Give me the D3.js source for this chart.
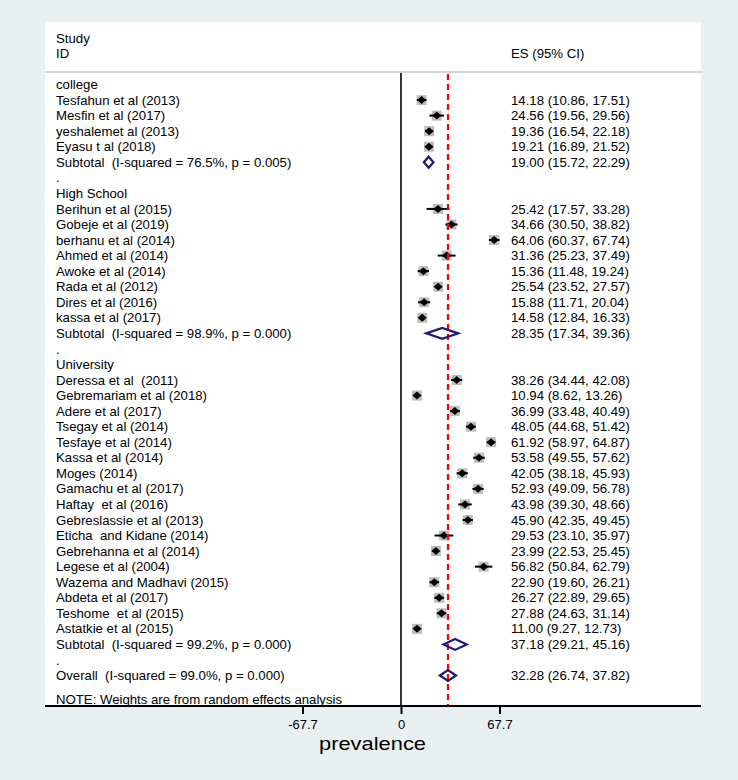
<!DOCTYPE html>
<html><head><meta charset="utf-8">
<script src="https://cdn.jsdelivr.net/npm/d3@7"></script>
<style>
html,body{margin:0;padding:0;background:#e9f0f2;}
svg{display:block;font-family:"Liberation Sans",Arial,sans-serif;}
text{white-space:pre;}
</style></head><body>
<svg id="chart" width="738" height="780"></svg>
<script>
// ---- data ----
const rowLabels = [
  "college",
  "Tesfahun et al (2013)","Mesfin et al (2017)","yeshalemet al (2013)","Eyasu t al (2018)",
  "Subtotal  (I-squared = 76.5%, p = 0.005)",
  ".",
  "High School",
  "Berihun et al (2015)","Gobeje et al (2019)","berhanu et al (2014)","Ahmed et al (2014)",
  "Awoke et al (2014)","Rada et al (2012)","Dires et al (2016)","kassa et al (2017)",
  "Subtotal  (I-squared = 98.9%, p = 0.000)",
  ".",
  "University",
  "Deressa et al  (2011)","Gebremariam et al (2018)","Adere et al (2017)","Tsegay et al (2014)",
  "Tesfaye et al (2014)","Kassa et al (2014)","Moges (2014)","Gamachu et al (2017)",
  "Haftay  et al (2016)","Gebreslassie et al (2013)","Eticha  and Kidane (2014)","Gebrehanna et al (2014)",
  "Legese et al (2004)","Wazema and Madhavi (2015)","Abdeta et al (2017)","Teshome  et al (2015)",
  "Astatkie et al (2015)",
  "Subtotal  (I-squared = 99.2%, p = 0.000)",
  ".",
  "Overall  (I-squared = 99.0%, p = 0.000)"
];
const rowKinds = [
  "group","study","study","study","study","subtotal","blank",
  "group","study","study","study","study","study","study","study","study","subtotal","blank",
  "group","study","study","study","study","study","study","study","study","study","study","study","study","study","study","study","study","study","subtotal","blank",
  "overall"
];
const esValues = [
  null,14.18,24.56,19.36,19.21,19.00,null,
  null,25.42,34.66,64.06,31.36,15.36,25.54,15.88,14.58,28.35,null,
  null,38.26,10.94,36.99,48.05,61.92,53.58,42.05,52.93,43.98,45.90,29.53,23.99,56.82,22.90,26.27,27.88,11.00,37.18,null,
  32.28
];
const ciLower = [
  null,10.86,19.56,16.54,16.89,15.72,null,
  null,17.57,30.50,60.37,25.23,11.48,23.52,11.71,12.84,17.34,null,
  null,34.44,8.62,33.48,44.68,58.97,49.55,38.18,49.09,39.30,42.35,23.10,22.53,50.84,19.60,22.89,24.63,9.27,29.21,null,
  26.74
];
const ciUpper = [
  null,17.51,29.56,22.18,21.52,22.29,null,
  null,33.28,38.82,67.74,37.49,19.24,27.57,20.04,16.33,39.36,null,
  null,42.08,13.26,40.49,51.42,64.87,57.62,45.93,56.78,48.66,49.45,35.97,25.45,62.79,26.21,29.65,31.14,12.73,45.16,null,
  37.82
];
const tickValues = [-67.7, 0, 67.7];
const tickLabels = ["-67.7", "0", "67.7"];
const overallES = 32.28;
const noteText = "NOTE: Weights are from random effects analysis";
const xTitle = "prevalence";

// ---- layout ----
const svg = d3.select("#chart");
const panel = {left: 45, right: 701, top: 22, bottom: 706};
const headerLineY = 72;
const x = d3.scaleLinear().domain([-67.7, 67.7]).range([302.5, 499.5]);
const y = d3.scaleLinear().domain([0, rowLabels.length - 1]).range([84.5, 675.5]);
const labelX = 56, esX = 511, fs = 13.2;
const fmt = d3.format(".2f");

svg.append("rect").attr("width", 738).attr("height", 780).attr("fill", "#e9f0f2");
svg.append("rect").attr("x", panel.left).attr("y", panel.top)
  .attr("width", panel.right - panel.left).attr("height", panel.bottom - panel.top)
  .attr("fill", "#ffffff");

// header
svg.append("text").attr("x", labelX).attr("y", 38).attr("dy", "0.35em").attr("font-size", fs).text("Study");
svg.append("text").attr("x", labelX).attr("y", 53).attr("dy", "0.35em").attr("font-size", fs).text("ID");
svg.append("text").attr("x", esX).attr("y", 53).attr("dy", "0.35em").attr("font-size", fs).text("ES (95% CI)");
svg.append("line").attr("x1", panel.left).attr("x2", panel.right)
  .attr("y1", headerLineY).attr("y2", headerLineY)
  .attr("stroke", "#c8c8c8").attr("stroke-width", 1.5);

// zero line
svg.append("line").attr("x1", x(0)).attr("x2", x(0))
  .attr("y1", headerLineY + 1).attr("y2", panel.bottom)
  .attr("stroke", "#000").attr("stroke-width", 1.6);

const rows = rowLabels.map((lab, i) => ({i, lab, kind: rowKinds[i], es: esValues[i], lo: ciLower[i], hi: ciUpper[i]}));

// labels
svg.append("g").selectAll("text").data(rows).join("text")
  .attr("x", labelX).attr("y", d => y(d.i)).attr("dy", "0.35em")
  .attr("font-size", fs).attr("fill", "#000").text(d => d.lab);

svg.append("text").attr("x", labelX).attr("y", 699).attr("dy", "0.35em")
  .attr("font-size", fs).text(noteText);

// ES column
svg.append("g").selectAll("text").data(rows.filter(d => d.es !== null)).join("text")
  .attr("x", esX).attr("y", d => y(d.i)).attr("dy", "0.35em")
  .attr("font-size", fs).attr("fill", "#000")
  .text(d => `${fmt(d.es)} (${fmt(d.lo)}, ${fmt(d.hi)})`);

const studies = rows.filter(d => d.kind === "study");
const boxSize = 10;
// weight boxes
svg.append("g").selectAll("rect").data(studies).join("rect")
  .attr("x", d => x(d.es) - boxSize / 2).attr("y", d => y(d.i) - boxSize / 2)
  .attr("width", boxSize).attr("height", boxSize).attr("fill", "#bdbdbd");
// CI lines
svg.append("g").selectAll("line").data(studies).join("line")
  .attr("x1", d => x(d.lo)).attr("x2", d => x(d.hi))
  .attr("y1", d => y(d.i)).attr("y2", d => y(d.i))
  .attr("stroke", "#000").attr("stroke-width", 2);
// point diamonds
svg.append("g").selectAll("path").data(studies).join("path")
  .attr("d", d => {
    const cx = x(d.es), cy = y(d.i);
    return `M${cx - 4.5},${cy}L${cx},${cy - 4}L${cx + 4.5},${cy}L${cx},${cy + 4}Z`;
  })
  .attr("fill", "#000");

// overall line
svg.append("line").attr("x1", x(overallES)).attr("x2", x(overallES))
  .attr("y1", headerLineY + 2).attr("y2", panel.bottom)
  .attr("stroke", "#ff0000").attr("stroke-width", 2.2).attr("stroke-dasharray", "6,4");

// pooled diamonds
const pooled = rows.filter(d => d.kind === "subtotal" || d.kind === "overall");
svg.append("g").selectAll("path").data(pooled).join("path")
  .attr("d", d => {
    const cy = y(d.i), h = 5.5;
    return `M${x(d.lo)},${cy}L${x(d.es)},${cy - h}L${x(d.hi)},${cy}L${x(d.es)},${cy + h}Z`;
  })
  .attr("fill", "none").attr("stroke", "#1a1a7a").attr("stroke-width", 2.2)
  .attr("stroke-linejoin", "miter");

// axis
svg.append("line").attr("x1", panel.left).attr("x2", panel.right)
  .attr("y1", panel.bottom).attr("y2", panel.bottom)
  .attr("stroke", "#000").attr("stroke-width", 2);
const axis = d3.axisBottom(x).tickValues(tickValues).tickSize(8).tickPadding(6)
  .tickFormat((d, i) => tickLabels[i]);
const ag = svg.append("g").attr("transform", `translate(0,${panel.bottom})`).call(axis);
ag.select(".domain").remove();
ag.selectAll(".tick line").attr("stroke", "#000").attr("stroke-width", 2);
ag.selectAll(".tick text").attr("font-size", 13).attr("font-family", '"Liberation Sans",Arial,sans-serif').attr("fill", "#000");

svg.append("text").attr("x", 319).attr("y", 750)
  .attr("font-size", 19).attr("textLength", 107).attr("lengthAdjust", "spacingAndGlyphs")
  .attr("fill", "#000").text(xTitle);
</script>
</body></html>
